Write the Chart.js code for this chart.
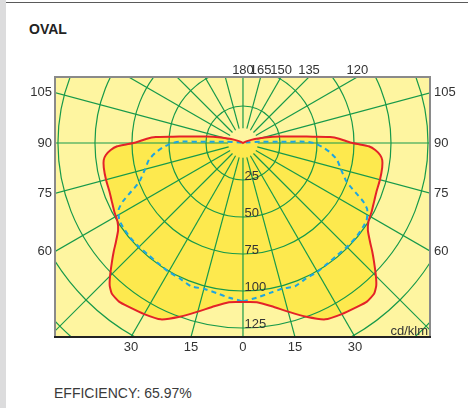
<!DOCTYPE html>
<html><head><meta charset="utf-8">
<script src="https://cdn.jsdelivr.net/npm/chart.js@4/dist/chart.umd.min.js"></script>
<style>
html,body{margin:0;padding:0;background:#fff;}
body{width:468px;height:408px;position:relative;overflow:hidden;font-family:"Liberation Sans",Arial,sans-serif;}
#strip{position:absolute;left:0;top:0;width:6px;height:408px;background:#dcdcdd;}
#topline{position:absolute;left:6px;top:2px;width:462px;height:1px;background:#5a5a5a;}
#title{position:absolute;left:29px;top:21px;line-height:16px;font-weight:bold;font-size:14px;color:#222;}
#eff{position:absolute;left:54px;top:385px;line-height:16px;font-size:14px;color:#3a3a3a;}
canvas{position:absolute;left:0;top:0;}
</style></head>
<body>
<div id="strip"></div><div id="topline"></div>
<div id="title">OVAL</div>
<div id="eff">EFFICIENCY: 65.97%</div>
<canvas id="c" width="468" height="408"></canvas>
<script>
// ---- data (gamma angle in degrees from nadir, intensity in cd/klm) ----
const redAngles = [0,5,10,15,20,25,30,35,38,41,43,45,48,50,52,55,58,62,66,70,75,80,83,85,87,88.5,89.3,90,91,92.4,93.9,95.1,96.5,100,104,108.4,115,125,150,180];
const redValues = [107.5,108,112,118,125,131.5,133.5,135,136,135,132,127,119,114,109,103,100,98.5,97,96,95.8,95.5,94.8,93,89.5,85,79,74,70,65.6,59,47.5,39,25.4,15.3,8.5,3,0.5,0,0];
const blueAngles = [0,5,10,15,20,25,30,35,40,45,50,55,58,60,62,64,66,68,70,75,80,84,87,89,90,91.2,92,94.4,100,110,180];
const blueValues = [107,105,103,102,103,101,100.5,99.5,99,99.3,99.5,99,98.5,97,95,90.5,84,78,74,68.5,64.5,59,54,50,48,43,25,11.5,2,0,0];
const sideAngleTicks = [105, 90, 75, 60];
const topAngleTicks = [180, 165, 150, 135, 120];
const bottomAngleTicks = [-30, -15, 0, 15, 30];
const ringLabels = [25, 50, 75, 100, 125];
const unitLabel = 'cd/klm';

// ---- view window (cd/klm units) ----
const X_MIN = -127.0, X_MAX = 126.35, Y_MIN = -131.1, Y_MAX = 44.6;
const rad = a => a * Math.PI / 180;

function loop(angles, values) {
  const right = angles.map((g, i) => ({x: values[i] * Math.sin(rad(g)), y: -values[i] * Math.cos(rad(g))}));
  const left = angles.slice().reverse().map((g, j) => {
    const i = angles.length - 1 - j;
    return {x: -values[i] * Math.sin(rad(g)), y: -values[i] * Math.cos(rad(g))};
  });
  return right.concat(left);
}

const tickFont = {family: '"Liberation Sans", Arial, sans-serif', size: 13};
const TICK_COLOR = '#333';

const backdrop = {
  id: 'backdrop',
  beforeDatasetsDraw(chart) {
    const {ctx, chartArea: a, scales: {x, y}} = chart;
    const cx = x.getPixelForValue(0), cy = y.getPixelForValue(0);
    const k = x.getPixelForValue(1) - cx;
    ctx.save();
    ctx.beginPath(); ctx.rect(a.left, a.top, a.right - a.left, a.bottom - a.top); ctx.clip();
    ctx.fillStyle = '#fef5a0';
    ctx.fillRect(a.left, a.top, a.right - a.left, a.bottom - a.top);
    const pts = chart.getDatasetMeta(1).data;
    ctx.beginPath();
    pts.forEach((p, i) => i ? ctx.lineTo(p.x, p.y) : ctx.moveTo(p.x, p.y));
    ctx.closePath();
    ctx.fillStyle = '#fde94e';
    ctx.fill();
    ctx.strokeStyle = '#17994a';
    ctx.lineWidth = 1.2;
    for (let v = 25; v <= 200; v += 25) {
      ctx.beginPath(); ctx.arc(cx, cy, v * k, 0, Math.PI * 2); ctx.stroke();
    }
    for (let g = 0; g < 360; g += 15) {
      const s = Math.sin(rad(g)), c = Math.cos(rad(g));
      ctx.beginPath();
      ctx.moveTo(cx + s * 10 * k, cy + c * 10 * k);
      ctx.lineTo(cx + s * 300 * k, cy + c * 300 * k);
      ctx.stroke();
    }
    ctx.fillStyle = TICK_COLOR;
    ctx.font = '13px "Liberation Sans", Arial, sans-serif';
    ctx.textAlign = 'left'; ctx.textBaseline = 'alphabetic';
    ringLabels.forEach(v => ctx.fillText(String(v), cx + 1.5, cy + v * k - 0.5));
    ctx.textAlign = 'right';
    ctx.fillText(unitLabel, a.right - 2, a.bottom - 2);
    ctx.restore();
  },
  afterDraw(chart) {
    const {ctx, chartArea: a} = chart;
    ctx.save();
    ctx.strokeStyle = '#8a8a8a';
    ctx.lineWidth = 2;
    ctx.beginPath();
    ctx.moveTo(a.left, a.bottom); ctx.lineTo(a.left, a.top); ctx.lineTo(a.right, a.top); ctx.lineTo(a.right, a.bottom);
    ctx.stroke();
    ctx.strokeStyle = '#222';
    ctx.beginPath(); ctx.moveTo(a.left - 1, a.bottom); ctx.lineTo(a.right + 1, a.bottom); ctx.stroke();
    ctx.restore();
  }
};

const baseAxis = (extra) => Object.assign({
  type: 'linear',
  grid: {display: false, drawTicks: false},
  border: {display: false},
}, extra);

new Chart(document.getElementById('c'), {
  type: 'scatter',
  data: {
    datasets: [
      {label: 'C90-C270', data: loop(blueAngles, blueValues), showLine: true, borderColor: '#1ea5e0', borderWidth: 2, borderDash: [5, 4], pointRadius: 0, fill: false, tension: 0.15, xAxisID: 'x', yAxisID: 'y', order: 2},
      {label: 'C0-C180', data: loop(redAngles, redValues), showLine: true, borderColor: '#e42228', borderWidth: 2, pointRadius: 0, fill: false, tension: 0.15, xAxisID: 'x', yAxisID: 'y', order: 1}
    ]
  },
  options: {
    responsive: false, animation: false, events: [],
    layout: {padding: 0},
    plugins: {legend: {display: false}, tooltip: {enabled: false}},
    scales: {
      x: baseAxis({position: 'bottom', min: X_MIN, max: X_MAX,
        afterBuildTicks: s => { s.ticks = bottomAngleTicks.map(g => ({value: Math.sign(g) * Math.abs(Y_MIN) * Math.tan(rad(Math.abs(g)))})); },
        afterFit: s => { s.height = 71; },
        ticks: {autoSkip: false, maxRotation: 0, padding: 3, font: tickFont, color: TICK_COLOR, callback: (v, i) => String(Math.abs(bottomAngleTicks[i]))}}),
      xTop: baseAxis({position: 'top', min: X_MIN, max: X_MAX,
        afterBuildTicks: s => { s.ticks = topAngleTicks.map(g => ({value: -Y_MAX * Math.tan(rad(g))})); },
        afterFit: s => { s.height = 77; },
        ticks: {autoSkip: false, maxRotation: 0, padding: -1, font: tickFont, color: TICK_COLOR, callback: (v, i) => String(topAngleTicks[i])}}),
      y: baseAxis({position: 'left', min: Y_MIN, max: Y_MAX,
        afterBuildTicks: s => { s.ticks = sideAngleTicks.map(g => ({value: -Math.abs(X_MIN) / Math.tan(rad(g))})); },
        afterFit: s => { s.width = 55; },
        ticks: {autoSkip: false, padding: 3, font: tickFont, color: TICK_COLOR, callback: (v, i) => String(sideAngleTicks[i])}}),
      yRight: baseAxis({position: 'right', min: Y_MIN, max: Y_MAX,
        afterBuildTicks: s => { s.ticks = sideAngleTicks.map(g => ({value: -X_MAX / Math.tan(rad(g))})); },
        afterFit: s => { s.width = 38; },
        ticks: {autoSkip: false, padding: 4, font: tickFont, color: TICK_COLOR, callback: (v, i) => String(sideAngleTicks[i])}})
    }
  },
  plugins: [backdrop]
});
</script>
</body></html>
